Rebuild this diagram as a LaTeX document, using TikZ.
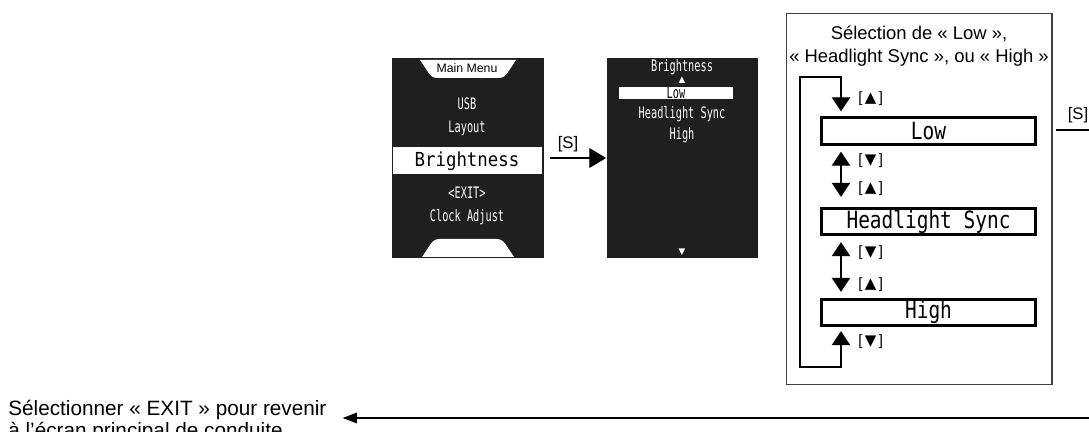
\documentclass[tikz,border=0pt]{standalone}
\usepackage{fontspec}
\setmainfont{Liberation Sans}
\newfontfamily\symfont{DejaVu Sans}
\newfontfamily\lcdfont[FakeStretch=0.65]{DejaVu Sans Mono}
\newfontfamily\lcdmid[FakeStretch=0.82]{DejaVu Sans Mono}
\newfontfamily\lcdwide[FakeStretch=0.9]{DejaVu Sans Mono}
\usetikzlibrary{positioning, arrows.meta, shapes.geometric}
\tikzset{
    screen/.style = {rectangle, fill=black!88, minimum width=3.04cm,
                        minimum height=4cm, inner sep=0},
    lcd/.style = {text=white, inner sep=0, font=\lcdfont\fontsize{9}{9}\selectfont},
    selbox/.style = {rectangle, draw, line width=1.6pt, minimum width=4.28cm,
                        minimum height=0.53cm, inner sep=0, font=\lcdmid\fontsize{13.5}{13.5}\selectfont},
    keylabel/.style = {anchor=west, inner sep=0, font=\fontsize{8.5}{9}\selectfont},
    skey/.style = {inner sep=0, font=\fontsize{9.5}{10}\selectfont},
    line/.style = {line width=0.6pt},
    sarrow/.style = {line, -{Triangle[length=9.6pt,width=11.3pt]}},
    dtri/.style = {line, {Triangle[length=8pt,width=10.5pt]}-{Triangle[length=8pt,width=10.5pt]}},
    exitarrow/.style = {line, -{Triangle[length=8pt,width=6pt]}}
}

\begin{document}
\begin{tikzpicture}[x=0.02cm, y=-0.02cm]
		\useasboundingbox (0,0) rectangle (1089,432);
		% main menu screen
		\node (menu) [screen] at (468,158) {};
		\fill[white] (420,60) [rounded corners=0.1cm] -- (432,78) -- (504,78) [sharp corners] -- (516,60) -- cycle;
		\fill[white] (422,257) [rounded corners=0.1cm] -- (434,239) -- (502,239) [sharp corners] -- (514,257) -- cycle;
		\fill[white] (393,147) rectangle (542,174);
		\node (mainmenu) [inner sep=0, font=\fontsize{7}{7}\selectfont] at (467,68) {Main Menu};
		\node (usb) [lcd] at (467,104) {USB};
		\node (layout) [lcd] at (467,128) {Layout};
		\node (brightsel) [inner sep=0, font=\lcdwide\fontsize{11}{11}\selectfont] at (467,161) {Brightness};
		\node (exit) [lcd] at (467,193) {<EXIT>};
		\node (clock) [lcd] at (467,217) {Clock Adjust};
		% brightness screen
		\node (bright) [screen] at (682.5,158) {};
		\node (brighttitle) [lcd] at (682,67) {Brightness};
		\node (upmark) [text=white, inner sep=0, font=\symfont\fontsize{5}{5}\selectfont] at (682,80) {▲};
		\fill[white] (619,87) rectangle (733,99);
		\node (lowsmall) [lcd, text=black] at (676,93) {Low};
		\node (headsmall) [lcd] at (682,114) {Headlight Sync};
		\node (highsmall) [lcd] at (682,135) {High};
		\node (downmark) [text=white, inner sep=0, font=\symfont\fontsize{5}{5}\selectfont] at (682,252) {▼};
		\draw [sarrow] ([xshift=0.12cm]menu.east) -- (bright.west);
		\node (s1) [skey] at (568,144) {[S]};
		% selection frame
		\node (selframe) [draw=black!75, line width=0.6pt, minimum width=5.32cm,
			minimum height=7.44cm, inner sep=0] at (919,199) {};
		\node (title) [align=center, inner sep=0, font=\fontsize{10.5}{13}\selectfont] at (919,46)
			{Sélection de « Low »,\\« Headlight Sync », ou « High »};
		\node (low) [selbox] at (928.5,131) {Low};
		\node (head) [selbox] at (928.5,221.5) {Headlight Sync};
		\node (high) [selbox] at (928.5,312.5) {High};
		\coordinate (ax) at (841,0);
		\coordinate (loopbl) at (800,367);
		\coordinate (looptl) at (800,77);
		\draw [dtri, shorten <=0.08cm, shorten >=0.1cm] (high.south -| ax) -- (ax |- loopbl)
			-- (loopbl) -- (looptl) -- (ax |- looptl) -- (low.north -| ax);
		\draw [dtri, shorten <=0.12cm, shorten >=0.2cm] (low.south -| ax) -- (head.north -| ax);
		\draw [dtri, shorten <=0.12cm, shorten >=0.12cm] (head.south -| ax) -- (high.north -| ax);
		\node (k1) [keylabel] at (858,99) {[\,{\symfont ▲}\,]};
		\node (k2) [keylabel] at (858,161) {[\,{\symfont ▼}\,]};
		\node (k3) [keylabel] at (858,189) {[\,{\symfont ▲}\,]};
		\node (k4) [keylabel] at (858,253) {[\,{\symfont ▼}\,]};
		\node (k5) [keylabel] at (858,285) {[\,{\symfont ▲}\,]};
		\node (k6) [keylabel] at (858,342) {[\,{\symfont ▼}\,]};
		% exit
		\coordinate (sout) at (1089,130);
		\draw [line] ([xshift=0.06cm]selframe.east |- sout) -- (sout);
		\node (s2) [skey] at (1078,115) {[S]};
		\node (exittext) [anchor=west, align=left, inner sep=0, font=\fontsize{11.8}{10.8}\selectfont] at (8,421)
			{Sélectionner « EXIT » pour revenir\\à l’écran principal de conduite.};
		\coordinate (exitstart) at (1089,418);
		\draw [exitarrow, shorten >=0.32cm] (exitstart) -- (exittext.east |- exitstart);
	\end{tikzpicture}
\end{document}
